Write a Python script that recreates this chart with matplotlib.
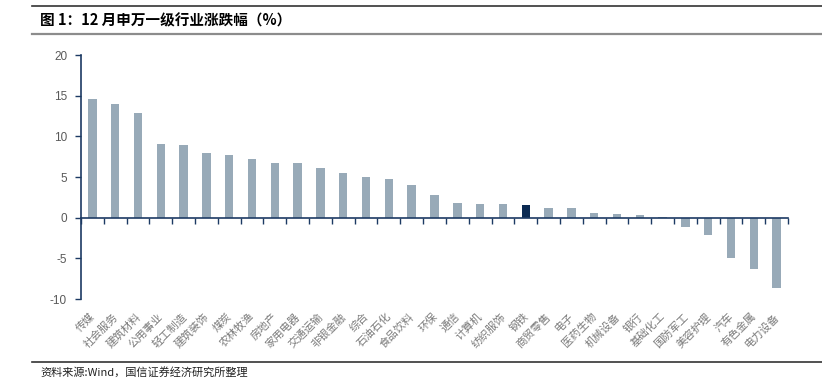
import matplotlib
matplotlib.use("Agg")
import matplotlib.pyplot as plt
from matplotlib.lines import Line2D
import matplotlib.transforms as mtransforms

categories = ["传媒", "社会服务", "建筑材料", "公用事业", "轻工制造", "建筑装饰", "煤炭",
              "农林牧渔", "房地产", "家用电器", "交通运输", "非银金融", "综合", "石油石化",
              "食品饮料", "环保", "通信", "计算机", "纺织服饰", "钢铁", "商贸零售", "电子",
              "医药生物", "机械设备", "银行", "基础化工", "国防军工", "美容护理", "汽车",
              "有色金属", "电力设备"]
values = [14.55, 14.0, 12.9, 9.0, 8.9, 7.9, 7.75, 7.2, 6.75, 6.7, 6.15, 5.5, 5.0, 4.8,
          4.05, 2.8, 1.85, 1.7, 1.65, 1.55, 1.2, 1.15, 0.53, 0.5, 0.3, 0.05, -1.1, -2.1,
          -4.9, -6.3, -8.7]
highlight = "钢铁"
yticks = [-10, -5, 0, 5, 10, 15, 20]

title = "图 1：12 月申万一级行业涨跌幅（%）"
source = "资料来源:Wind，国信证券经济研究所整理"

cjk = ["Noto Sans CJK SC", "DejaVu Sans"]
plt.rcParams['font.family'] = cjk

W, H = 822, 388
fig = plt.figure(figsize=(W / 100, H / 100), dpi=100)

ax_left, ax_right = 81, 788
ax_top, ax_bottom = 55, 299
ax = fig.add_axes([ax_left / W, 1 - ax_bottom / H, (ax_right - ax_left) / W, (ax_bottom - ax_top) / H])

bar_color = "#98aab8"
dark_color = "#0b2a52"
spine_color = "#1c3a63"
n = len(categories)
x = list(range(n))
colors = [dark_color if c == highlight else bar_color for c in categories]
ax.bar(x, values, width=0.37, color=colors, zorder=2)

ax.set_xlim(-0.5, n - 0.5)
ax.set_ylim(-10, 20)
ax.set_yticks(yticks)
ax.set_yticklabels([str(t) for t in yticks], family="Liberation Sans", fontsize=8.5, color="#595959")

for s in ["top", "right"]:
    ax.spines[s].set_visible(False)
ax.spines["bottom"].set_position(("data", 0))
ax.spines["bottom"].set_color(spine_color)
ax.spines["bottom"].set_linewidth(1.2)
ax.spines["left"].set_color(spine_color)
ax.spines["left"].set_linewidth(1.2)

ax.set_xticks([i + 0.5 for i in range(-1, n)])
ax.set_xticklabels([])
ax.tick_params(axis="x", direction="out", length=4, width=1, color=spine_color)
ax.tick_params(axis="y", direction="out", length=4, width=1, color=spine_color, pad=6)

trans = mtransforms.blended_transform_factory(ax.transData, ax.transAxes)
for i, c in enumerate(categories):
    ax.text(i - 0.12, -0.05, c, transform=trans, rotation=45, ha="right", va="top",
            rotation_mode="anchor", fontsize=7.8, color="#7a7a7a", family=cjk)

# header/footer decorations
fig.add_artist(Line2D([32 / W, 1.0], [1 - 6 / H, 1 - 6 / H], color="#333333", lw=1.2, transform=fig.transFigure))
fig.add_artist(Line2D([32 / W, 1.0], [1 - 34 / H, 1 - 34 / H], color="#8c8c8c", lw=1.6, transform=fig.transFigure))
fig.add_artist(Line2D([32 / W, 1.0], [1 - 362 / H, 1 - 362 / H], color="#333333", lw=1.2, transform=fig.transFigure))

fig.text(40 / W, 1 - 20 / H, title, fontsize=10.5, fontweight="bold", va="center", ha="left",
         color="#000000", family=cjk)
fig.text(40 / W, 1 - 372 / H, source, fontsize=8, va="center", ha="left", color="#222222", family=cjk)

fig.savefig("out.png", dpi=100)
